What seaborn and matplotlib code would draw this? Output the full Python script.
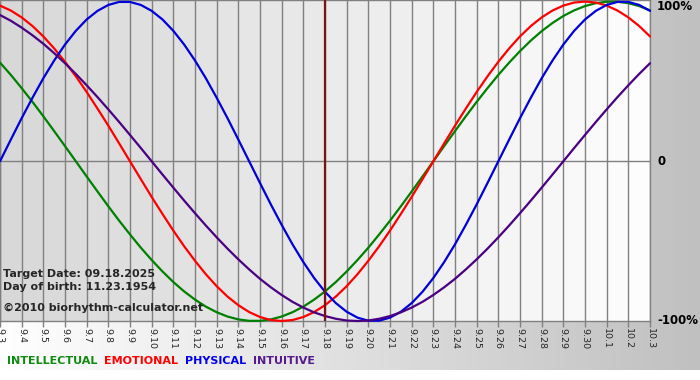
import numpy as np
import pandas as pd
import matplotlib
matplotlib.use("Agg")
import matplotlib.pyplot as plt
import seaborn as sns
from matplotlib.colors import LinearSegmentedColormap

# ---------------- data ----------------
days = ["9.3", "9.4", "9.5", "9.6", "9.7", "9.8", "9.9", "9.10", "9.11", "9.12",
        "9.13", "9.14", "9.15", "9.16", "9.17", "9.18", "9.19", "9.20", "9.21",
        "9.22", "9.23", "9.24", "9.25", "9.26", "9.27", "9.28", "9.29", "9.30",
        "10.1", "10.2", "10.3"]

# values read every half day, from 9.3 to 10.3
physical = [0.000, 0.136, 0.270, 0.398, 0.520, 0.631, 0.731, 0.817, 0.888,
            0.942, 0.979, 0.998, 0.998, 0.979, 0.942, 0.888, 0.817, 0.731,
            0.631, 0.520, 0.398, 0.270, 0.136, 0.000, -0.136, -0.270, -0.398,
            -0.520, -0.631, -0.731, -0.817, -0.888, -0.942, -0.979, -0.998,
            -0.998, -0.979, -0.942, -0.888, -0.817, -0.731, -0.631, -0.520,
            -0.398, -0.270, -0.136, 0.000, 0.136, 0.270, 0.398, 0.520, 0.631,
            0.731, 0.817, 0.888, 0.942, 0.979, 0.998, 0.998, 0.979, 0.942]

emotional = [0.975, 0.944, 0.901, 0.847, 0.782, 0.707, 0.623, 0.532, 0.434,
             0.330, 0.223, 0.112, 0.000, -0.112, -0.223, -0.330, -0.434,
             -0.532, -0.623, -0.707, -0.782, -0.847, -0.901, -0.944, -0.975,
             -0.994, -1.000, -0.994, -0.975, -0.944, -0.901, -0.847, -0.782,
             -0.707, -0.623, -0.532, -0.434, -0.330, -0.223, -0.112, 0.000,
             0.112, 0.223, 0.330, 0.434, 0.532, 0.623, 0.707, 0.782, 0.847,
             0.901, 0.944, 0.975, 0.994, 1.000, 0.994, 0.975, 0.944, 0.901,
             0.847, 0.782]

intellectual = [0.618, 0.541, 0.458, 0.372, 0.282, 0.189, 0.095, 0.000,
                -0.095, -0.189, -0.282, -0.372, -0.458, -0.541, -0.618, -0.690,
                -0.756, -0.815, -0.866, -0.910, -0.945, -0.972, -0.990, -0.999,
                -0.999, -0.990, -0.972, -0.945, -0.910, -0.866, -0.815, -0.756,
                -0.690, -0.618, -0.541, -0.458, -0.372, -0.282, -0.189, -0.095,
                0.000, 0.095, 0.189, 0.282, 0.372, 0.458, 0.541, 0.618, 0.690,
                0.756, 0.815, 0.866, 0.910, 0.945, 0.972, 0.990, 0.999, 0.999,
                0.990, 0.972, 0.945]

intuitive = [0.916, 0.880, 0.837, 0.789, 0.736, 0.677, 0.614, 0.547, 0.476,
             0.402, 0.325, 0.246, 0.165, 0.083, 0.000, -0.083, -0.165, -0.246,
             -0.325, -0.402, -0.476, -0.547, -0.614, -0.677, -0.736, -0.789,
             -0.837, -0.880, -0.916, -0.946, -0.969, -0.986, -0.997, -1.000,
             -0.997, -0.986, -0.969, -0.946, -0.916, -0.880, -0.837, -0.789,
             -0.736, -0.677, -0.614, -0.547, -0.476, -0.402, -0.325, -0.246,
             -0.165, -0.083, 0.000, 0.083, 0.165, 0.246, 0.325, 0.402, 0.476,
             0.547, 0.614]

series_names = ["INTELLECTUAL", "EMOTIONAL", "PHYSICAL", "INTUITIVE"]
series_values = [intellectual, emotional, physical, intuitive]
line_colors = ["#008000", "#ff0000", "#0000d8", "#4b0082"]
legend_colors = ["#108a10", "#ff0000", "#0000ee", "#551a8b"]

target_label = "9.18"
target_date = "09.18.2025"
birth_date = "11.23.1954"
site = "\u00a92010 biorhythm-calculator.net"
y_labels = ["100%", "0", "-100%"]
y_label_vals = [1.0, 0.0, -1.0]

# ---------------- long table ----------------
n = len(days)
sample_x = np.linspace(0, n - 1, len(physical))  # half-day positions
rows = []
for name, vals in zip(series_names, series_values):
    for x, v in zip(sample_x, vals):
        rows.append({"day": x, "value": v, "series": name})
df = pd.DataFrame(rows)

sns.set_style("white")
plt.rcParams["font.family"] = ["DejaVu Sans"]

W, H = 700, 380
fig = plt.figure(figsize=(W / 100, H / 100), dpi=100)

# figure background gradient (white -> gray), white bottom strip
bg = fig.add_axes([0, 0, 1, 1], zorder=-10)
bg.set_xlim(0, 1)
bg.set_ylim(0, 1)
bg_cmap = LinearSegmentedColormap.from_list("bg", ["#ffffff", "#c0c0c0"])
grad = np.linspace(0, 1, 256).reshape(1, -1)
bg.imshow(grad, cmap=bg_cmap, aspect="auto", extent=[0, 1, 10 / H, 1],
          interpolation="bilinear")
bg.axis("off")

# plot area
ax_left, ax_right, ax_top, ax_bottom = 0, 650, 0, 321
ax = fig.add_axes([ax_left / W, 1 - ax_bottom / H, (ax_right - ax_left) / W,
                   (ax_bottom - ax_top) / H])
ax.patch.set_alpha(0)
plot_cmap = LinearSegmentedColormap.from_list("pl", ["#d8d8d8", "#fdfdfd"])
cols = np.linspace(0, 1, n - 1).reshape(1, -1)
ax.imshow(cols, cmap=plot_cmap, aspect="auto", extent=[0, n - 1, -1.0, 1.01],
          interpolation="nearest", zorder=0)

sns.lineplot(data=df, x="day", y="value", hue="series", hue_order=series_names,
             palette=dict(zip(series_names, line_colors)), linewidth=1.6,
             legend=False, ax=ax, estimator=None, sort=False, zorder=4)
for ln in ax.lines:
    ln.set_clip_on(False)
    ln.set_solid_capstyle("round")
    ln.set_solid_joinstyle("round")

ax.set_xlim(0, n - 1)
ax.set_ylim(-1.0, 1.01)
ax.set_xticks(range(n))
ax.set_xticklabels(days)
ax.set_yticks([])
ax.set_xlabel("")
ax.set_ylabel("")
ax.grid(axis="x", color="#808080", linewidth=1.0)
ax.set_axisbelow(True)
for ln in ax.get_xgridlines():
    ln.set_zorder(1)
ax.axhline(0, color="#808080", linewidth=1.0, zorder=1)
ax.axvline(days.index(target_label), color="#7a1414", linewidth=1.6, zorder=5)

ax.tick_params(axis="x", length=4, width=1, color="#808080", pad=1,
               labelsize=6.8, labelrotation=-90, bottom=True)
for s in ax.spines.values():
    s.set_color("#808080")
    s.set_linewidth(1.0)

# right side percent labels
offsets = [-5, 0, 0]
for lab, val, off in zip(y_labels, y_label_vals, offsets):
    ax.annotate(lab, xy=(1.0, val), xycoords=("axes fraction", "data"),
                xytext=(7, off), textcoords="offset pixels", ha="left",
                va="center", fontsize=8.5, fontweight="bold", color="black",
                annotation_clip=False)

# info text
def fy(py):
    return 1 - py / H

fig.text(3 / W, fy(277), f"Target Date: {target_date}", fontsize=8,
         fontweight="bold", va="baseline", ha="left")
fig.text(3 / W, fy(290), f"Day of birth: {birth_date}", fontsize=8,
         fontweight="bold", va="baseline", ha="left")
fig.text(3 / W, fy(311), site, fontsize=8, fontweight="bold",
         va="baseline", ha="left")

# colored legend words
prev = bg.text(7 / W, fy(366), series_names[0], color=legend_colors[0],
               fontsize=8, fontweight="bold", va="bottom", ha="left",
               transform=bg.transAxes)
for name, col in zip(series_names[1:], legend_colors[1:]):
    prev = bg.annotate(name, xy=(1, 0), xycoords=prev, xytext=(7, 0),
                       textcoords="offset pixels", color=col, fontsize=8,
                       fontweight="bold", va="bottom", ha="left")

fig.savefig("out.png", dpi=100)
